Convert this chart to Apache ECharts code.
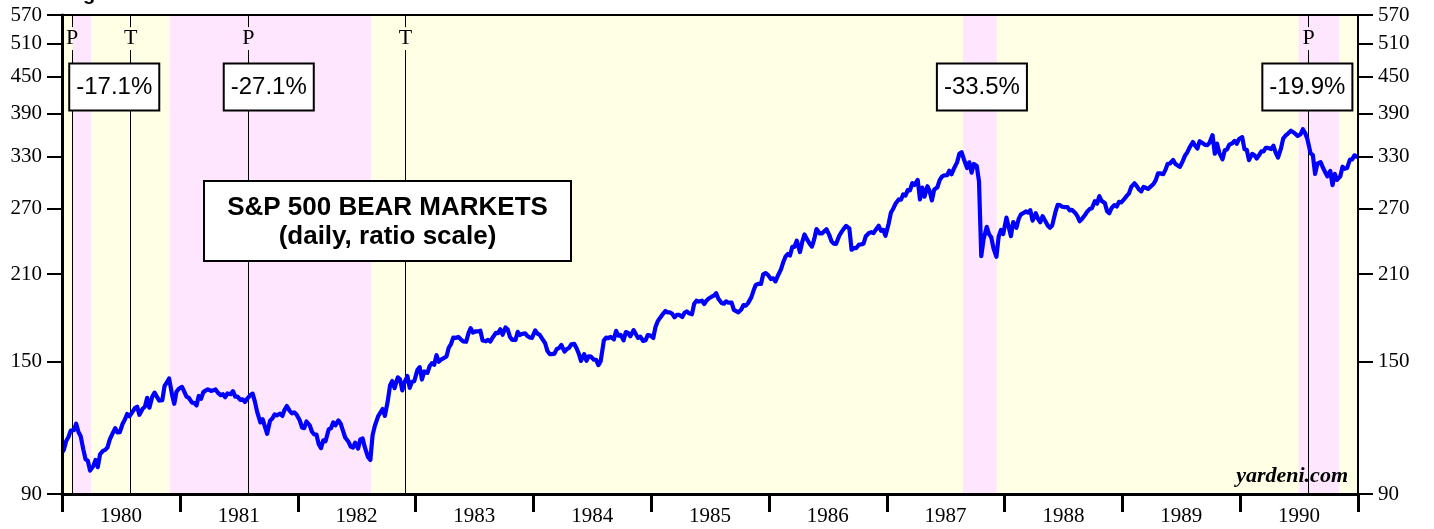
<!DOCTYPE html>
<html>
<head>
<meta charset="utf-8">
<script src="https://cdn.jsdelivr.net/npm/echarts@6/dist/echarts.min.js"></script>
<style>
html,body{margin:0;padding:0;background:#fff;}
#chart{width:1434px;height:529px;}
</style>
</head>
<body>
<div id="chart"></div>
<script>
// ---------------- DATA ----------------
const years = [1980, 1981, 1982, 1983, 1984, 1985, 1986, 1987, 1988, 1989, 1990];
const sampleDays = [7, 14, 21, 28]; // four readings per month
const firstClose = ['1980-01-02', 105.8];
const lastClose = ['1990-12-31', 330.2];

const spx1980 = [106.8,110.4,112.1,114.9, 115.1,118.0,114.3,112.4, 106.9,102.9,102.3,98.5, 100.2,102.6,99.8,104.9, 106.3,106.7,107.7,111.0, 114.0,116.0,114.1,114.2, 118.0,119.9,122.5,121.4, 123.6,125.3,126.0,122.1, 125.0,126.0,130.4,125.5, 131.0,133.0,131.0,129.0, 129.2,136.5,138.3,140.5, 132.1,127.4,133.5,135.0];
const spx1981 = [136.0,133.5,131.0,130.4, 128.0,127.8,126.6,131.3, 129.9,133.2,134.1,134.7, 133.9,134.2,134.7,133.0, 131.7,132.2,130.7,132.6, 132.2,133.8,131.0,131.0, 129.3,129.6,128.3,129.9, 131.8,132.5,128.5,123.5, 118.6,120.1,116.7,113.5, 119.4,120.4,122.3,121.9, 122.7,121.6,124.5,126.3, 124.0,122.8,123.3,122.3];
const spx1982 = [119.6,116.3,116.0,119.0, 117.3,114.4,113.2,113.1, 109.0,107.4,110.7,110.3, 115.5,116.0,118.6,117.3, 119.5,118.0,114.9,111.9, 110.1,108.0,107.6,109.7, 107.2,111.1,111.5,107.7, 103.7,102.6,113.0,117.1, 121.4,123.1,124.9,121.6, 128.8,136.7,139.1,135.3, 141.1,140.0,134.2,138.5, 141.8,135.5,138.7,139.0];
const spx1983 = [145.2,146.7,139.9,144.3, 143.5,147.4,149.0,148.1, 153.7,149.8,151.1,151.8, 152.9,158.1,160.4,164.4, 164.3,164.9,163.4,162.1, 161.8,167.1,170.5,167.6, 168.5,168.4,168.9,162.6, 162.1,163.0,162.0,164.4, 167.4,167.3,169.8,166.2, 171.0,169.6,164.8,163.0, 163.0,168.1,166.1,166.8, 167.1,165.4,164.5,164.3];
const spx1984 = [169.0,167.0,166.2,163.9, 160.9,156.1,154.3,154.3, 154.6,157.4,157.9,159.9, 155.8,157.3,158.0,160.2, 160.5,158.0,154.7,150.3, 154.3,150.4,153.0,152.8, 151.0,150.9,147.9,150.1, 162.7,164.4,164.1,164.9, 163.3,168.8,165.7,166.1, 162.7,168.0,167.4,165.3, 169.2,166.7,164.2,165.0, 162.3,162.7,166.0,165.8];
const spx1985 = [164.2,171.3,175.2,177.4, 180.4,182.2,181.2,181.2, 180.2,177.8,179.5,179.5, 178.0,180.9,181.9,180.6, 179.9,187.4,189.6,188.9, 189.6,187.1,189.6,191.2, 192.5,193.3,195.1,191.0, 187.9,187.4,189.1,188.1, 188.2,183.0,182.1,181.3, 183.2,186.4,186.0,187.8, 192.0,197.1,201.5,202.2, 202.2,209.9,210.9,209.6];
const spx1986 = [206.0,206.6,204.2,208.5, 213.9,219.8,224.6,226.9, 225.6,233.2,233.3,238.9, 228.6,237.7,244.7,240.5, 236.1,233.5,240.1,249.8, 245.7,245.7,247.6,249.6, 244.0,238.1,236.2,236.0, 243.7,247.1,250.2,252.9, 250.5,230.7,232.2,232.2, 235.3,235.4,236.3,243.0, 246.1,246.8,245.9,249.2, 253.0,248.2,249.1,243.4];
const spx1987 = [255.3,266.3,270.2,275.4, 280.0,279.7,285.5,284.2, 290.3,289.9,298.2,296.1, 301.9,280.0,293.1,283.0, 294.7,289.0,279.0,290.8, 293.5,301.6,305.8,307.2, 307.4,312.7,308.5,315.2, 323.0,334.0,335.9,327.0, 316.0,323.1,310.5,321.0, 318.5,300.0,225.0,240.0, 252.0,245.0,242.0,232.0, 224.5,242.8,249.0,245.0];
const spx1988 = [261.1,252.1,243.1,256.7, 251.0,259.8,264.4,265.6, 267.4,266.1,268.7,258.1, 265.5,259.8,256.4,262.6, 257.5,253.3,251.0,253.4, 266.9,274.3,274.0,272.3, 271.8,272.0,268.5,269.0, 266.0,262.6,257.5,259.7, 264.0,267.4,269.8,270.6, 278.1,275.5,283.7,278.5, 276.3,267.7,265.5,270.9, 274.0,272.5,277.5,276.8];
const spx1989 = [280.7,283.9,286.6,293.8, 298.0,294.8,291.0,288.9, 293.9,292.9,291.6,293.9, 297.2,301.7,309.6,309.6, 308.6,313.8,321.3,321.6, 326.0,321.1,319.2,317.5, 324.9,331.8,335.9,342.2, 349.4,344.7,340.7,350.5, 347.7,345.5,345.2,348.6, 358.8,334.0,347.2,335.1, 326.8,338.6,339.6,345.8, 347.6,350.9,347.0,353.4];
const spx1990 = [356.0,339.9,339.1,325.8, 333.8,332.0,327.9,331.9, 336.9,336.9,341.6,341.5, 340.1,344.3,335.1,329.1, 340.5,354.0,358.0,360.6, 364.9,362.9,360.5,357.6, 360.0,367.0,361.6,353.4, 334.4,332.4,309.0,321.4, 323.4,316.8,311.3,306.1, 312.5,296.0,309.1,301.9, 306.0,317.7,315.1,316.0, 326.4,326.8,331.8,330.2];
const spxByYear = [spx1980, spx1981, spx1982, spx1983, spx1984, spx1985, spx1986, spx1987, spx1988, spx1989, spx1990];

const yTicks = [90, 150, 210, 270, 330, 390, 450, 510, 570];

// bear market shading
const bearStart = ['1980-02-03', '1980-12-01', '1987-08-25', '1990-07-01'];
const bearEnd   = ['1980-03-31', '1982-08-16', '1987-12-08', '1990-11-03'];
// percentage declines (annotation boxes)
const declineLabels = ['-17.1%', '-27.1%', '-33.5%', '-19.9%'];
const declineLabelDates = ['1980-06-11', '1981-10-03', '1987-10-23', '1990-07-28'];
const declineLabelLevel = 432;
// business cycle peaks / troughs
const cycleDates  = ['1980-02-01', '1980-08-01', '1981-08-01', '1982-12-01', '1990-08-01'];
const cycleLabels = ['P', 'T', 'P', 'T', 'P'];
const cycleLabelLevel = 521;
const cycleGapTop = 544, cycleGapBottom = 498;

// ---------------- BUILD ----------------
const pad = n => (n < 10 ? '0' : '') + n;
const ts = s => echarts.time.parse(s).getTime();
const spxData = [[ts(firstClose[0]), firstClose[1]]];
years.forEach((y, i) => {
  spxByYear[i].forEach((v, k) => {
    const m = Math.floor(k / 4) + 1;
    const d = sampleDays[k % 4];
    spxData.push([ts(y + '-' + pad(m) + '-' + pad(d)), v]);
  });
});
spxData.push([ts(lastClose[0]), lastClose[1]]);

const yearStarts = years.concat([years[years.length - 1] + 1]).map(y => ts(y + '-01-01'));
const yearMids = years.map(y => ts(y + '-07-02'));
const xMin = ts('1980-01-01'), xMax = ts('1991-01-01');

const cycleLines = [];
cycleDates.forEach(d => {
  const t = ts(d);
  cycleLines.push([{ coord: [t, 570] }, { coord: [t, cycleGapTop] }]);
  cycleLines.push([{ coord: [t, cycleGapBottom] }, { coord: [t, 90] }]);
});

const serif = "'Liberation Serif', 'Times New Roman', serif";
const sans = "'Liberation Sans', Arial, sans-serif";

const yAxisBase = {
  type: 'log', logBase: 10, min: 90, max: 570,
  splitLine: { show: false }, minorTick: { show: false },
  axisTick: { show: true, inside: false, length: 15, lineStyle: { color: '#000', width: 2 }, customValues: yTicks },
  axisLabel: { customValues: yTicks, fontFamily: serif, fontSize: 21, color: '#000', margin: 20, formatter: v => String(Math.round(v)) },
  z: 6
};

const chart = echarts.init(document.getElementById('chart'), null, { renderer: 'canvas' });
chart.setOption({
  animation: false,
  backgroundColor: '#fff',
  grid: { left: 62, right: 76, top: 15, bottom: 35, show: true, backgroundColor: '#FFFFE6', borderColor: '#000', borderWidth: 0 },
  xAxis: [{
    type: 'value', min: xMin, max: xMax, position: 'bottom', scale: true,
    splitLine: { show: false },
    axisLine: { show: true, onZero: false, lineStyle: { color: '#000', width: 3 } },
    axisTick: { show: true, length: 18, lineStyle: { color: '#000', width: 3 }, customValues: yearStarts },
    axisLabel: { customValues: yearMids, formatter: v => String(new Date(v).getFullYear()), fontFamily: serif, fontSize: 21, color: '#000', margin: 12 },
    z: 6
  }, {
    type: 'value', min: xMin, max: xMax, position: 'top', scale: true,
    splitLine: { show: false },
    axisLine: { show: true, onZero: false, lineStyle: { color: '#000', width: 2 } },
    axisTick: { show: false }, axisLabel: { show: false },
    z: 6
  }],
  yAxis: [
    Object.assign({}, yAxisBase, { position: 'left', axisLine: { show: true, onZero: false, lineStyle: { color: '#000', width: 3 } } }),
    Object.assign({}, yAxisBase, { position: 'right', axisLine: { show: true, onZero: false, lineStyle: { color: '#000', width: 2 } } })
  ],
  series: [
    {
      name: 'S&P 500', type: 'line', data: spxData, xAxisIndex: 0, yAxisIndex: 0,
      showSymbol: false, symbol: 'none', z: 3, silent: true,
      lineStyle: { color: '#0000FF', width: 4.2, join: 'round' },
      markArea: {
        silent: true, z: 1,
        itemStyle: { color: '#FFE6FF' },
        data: bearStart.map((s, i) => [{ xAxis: ts(s) }, { xAxis: ts(bearEnd[i]) }])
      }
    },
    {
      name: 'cycle', type: 'scatter', xAxisIndex: 0, yAxisIndex: 0, z: 4, silent: true,
      symbolSize: 1, itemStyle: { color: 'rgba(0,0,0,0)', opacity: 1 },
      data: cycleDates.map(d => [ts(d), cycleLabelLevel]),
      label: { show: true, position: 'inside', formatter: p => cycleLabels[p.dataIndex], fontFamily: serif, fontSize: 22, color: '#000', textBorderWidth: 0, opacity: 1 },
      markLine: {
        silent: true, z: 2, symbol: ['none', 'none'], animation: false,
        label: { show: false },
        lineStyle: { color: '#000', width: 1, type: 'solid', opacity: 1 },
        data: cycleLines
      }
    },
    {
      name: 'declines', type: 'scatter', xAxisIndex: 0, yAxisIndex: 0, z: 5, silent: true,
      symbolSize: 1, itemStyle: { color: 'rgba(0,0,0,0)', opacity: 1 },
      data: declineLabelDates.map(d => [ts(d), declineLabelLevel]),
      label: {
        show: true, position: 'inside', formatter: p => declineLabels[p.dataIndex],
        fontFamily: sans, fontSize: 24, lineHeight: 24, color: '#000', textBorderWidth: 0, opacity: 1,
        backgroundColor: '#fff', borderColor: '#000', borderWidth: 2, padding: [11, 6, 10, 6]
      }
    }
  ],
  graphic: [
    {
      type: 'group', left: 203, top: 180,
      children: [
        { type: 'rect', z: 20, shape: { x: 0, y: 0, width: 367, height: 80 }, style: { fill: '#fff', stroke: '#000', lineWidth: 2 } },
        { type: 'text', z: 21, x: 183.5, y: 41, style: { text: 'S&P 500 BEAR MARKETS\n(daily, ratio scale)', font: "bold 26px 'Liberation Sans', Arial, sans-serif", fill: '#000', align: 'center', verticalAlign: 'middle', lineHeight: 29 } }
      ]
    },
    { type: 'text', right: 1434 - 1348, top: 465, z: 20, style: { text: 'yardeni.com', font: "italic bold 22px 'Liberation Serif', 'Times New Roman', serif", fill: '#000' } },
    { type: 'text', left: 83, top: -16, z: 20, style: { text: 'g', font: "bold 20px 'Liberation Sans', Arial, sans-serif", fill: '#000' } }
  ]
});
</script>
</body>
</html>
